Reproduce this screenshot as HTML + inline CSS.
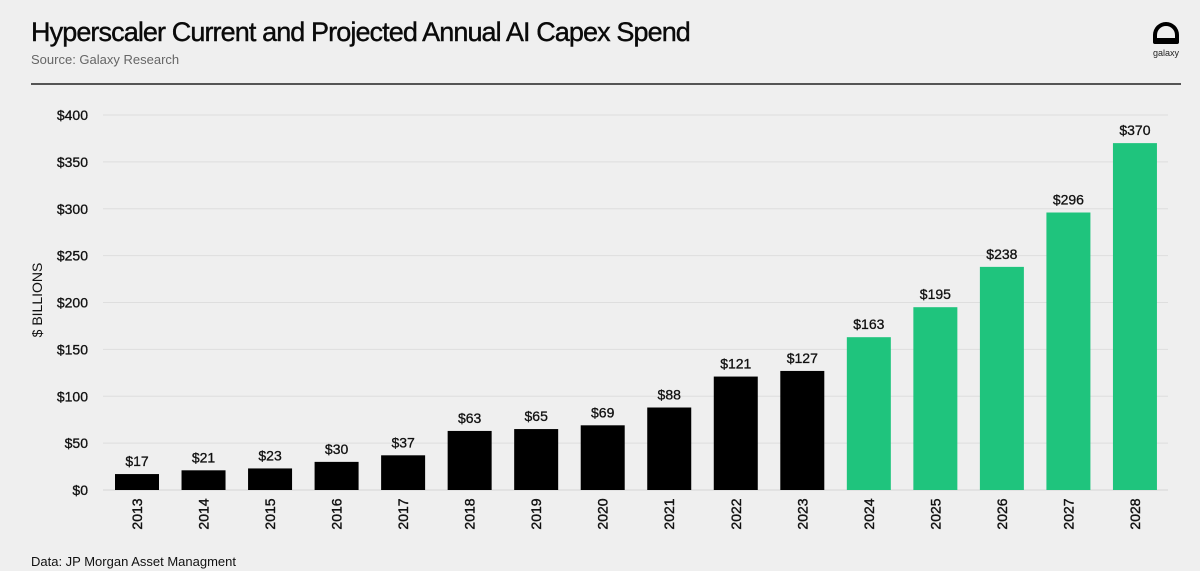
<!DOCTYPE html>
<html><head><meta charset="utf-8"><style>
body{margin:0;width:1200px;height:571px;background:#efefef;font-family:"Liberation Sans",sans-serif;overflow:hidden;position:relative}
.t{position:absolute;left:31px;top:17px;font-size:27px;color:#0a0a0a;letter-spacing:-0.9px;-webkit-text-stroke:0.4px #0a0a0a}
.s{position:absolute;left:31px;top:52px;font-size:13px;color:#666}
.r{position:absolute;left:31px;top:83px;width:1150px;height:2px;background:#555}
.d{position:absolute;left:31px;top:554px;font-size:13px;color:#111}
</style></head><body>
<div class="t">Hyperscaler Current and Projected Annual AI Capex Spend</div>
<div class="s">Source: Galaxy Research</div>
<div class="r"></div>
<div style="position:absolute;left:1153px;top:22px;width:28px;height:40px">
<div style="width:26px;height:22px;border:4px solid #000;border-radius:14px 14px 2px 2px;box-sizing:border-box;border-bottom-width:6px"></div>
<div style="font-size:9px;color:#222;text-align:center;margin-top:4px;margin-left:-2px">galaxy</div></div>
<div class="d">Data: JP Morgan Asset Managment</div>
<svg id="c" width="1200" height="571" style="position:absolute;left:0;top:0"></svg>
<script>
const years=["2013","2014","2015","2016","2017","2018","2019","2020","2021","2022","2023","2024","2025","2026","2027","2028"];
const values=[17,21,23,30,37,63,65,69,88,121,127,163,195,238,296,370];
const projected=[0,0,0,0,0,0,0,0,0,0,0,1,1,1,1,1];
const yTicks=[0,50,100,150,200,250,300,350,400];
const svg=document.getElementById('c'),NS="http://www.w3.org/2000/svg";
const y=v=>490-v*0.9375, x=i=>137+i*66.53;
function mk(t,a,txt){const e=document.createElementNS(NS,t);for(const k in a)e.setAttribute(k,a[k]);if(txt!=null)e.textContent=txt;svg.appendChild(e);return e;}
yTicks.forEach(v=>{
 const g=mk('line',{x1:103,x2:1168,y1:y(v),y2:y(v),stroke:v===0?'#d4d4d4':'#dedede','stroke-width':1});
 
 
 const l=mk('text',{x:88,y:y(v)+5,'text-anchor':'end','font-size':14,fill:'#111','font-family':'Liberation Sans','stroke':'#111','stroke-width':0.3},'$'+v);
 
 
});
const yt=mk('text',{transform:'translate(42,300) rotate(-90)','text-anchor':'middle','font-size':14,fill:'#111','font-family':'Liberation Sans'},'$ BILLIONS');


values.forEach((v,i)=>{
 const b=mk('rect',{x:x(i)-22,y:y(v),width:44,height:490-y(v),fill:projected[i]?'#1fc47d':'#000'});
 
 
 const l=mk('text',{x:x(i),y:y(v)-8,'text-anchor':'middle','font-size':14,fill:'#111','font-family':'Liberation Sans','stroke':'#111','stroke-width':0.3},'$'+v);
 
 
 const t=mk('text',{transform:`translate(${x(i)+5},514) rotate(-90)`,'text-anchor':'middle','font-size':14,fill:'#111','font-family':'Liberation Sans','stroke':'#111','stroke-width':0.4},years[i]);
 
 
});
</script>
</body></html>
